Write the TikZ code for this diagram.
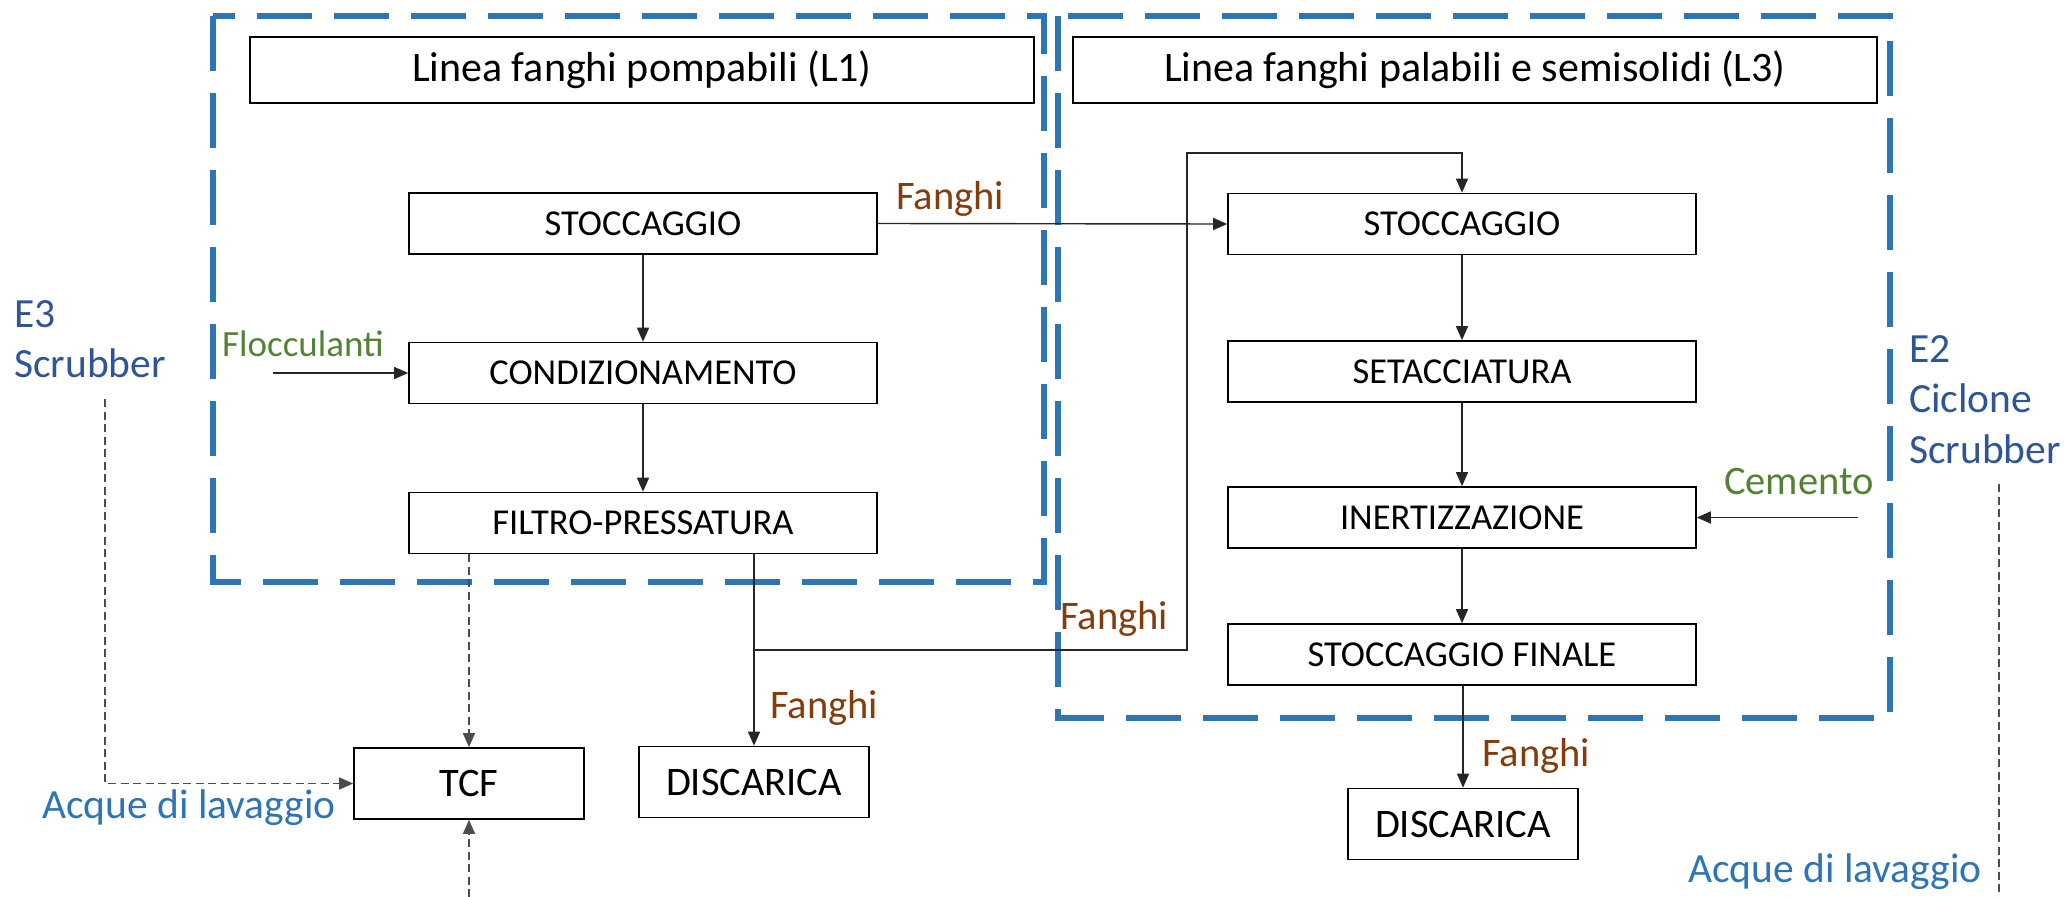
\documentclass[tikz,border=0pt]{standalone}
\usepackage{fontspec}
\setmainfont{Carlito}
\usetikzlibrary{arrows.meta}
\definecolor{zoneblue}{HTML}{2E75B6}
\definecolor{brownc}{HTML}{843C0C}
\definecolor{greenc}{HTML}{548235}
\definecolor{dblue}{HTML}{2F5597}
\definecolor{lblue}{HTML}{2E75B6}
\begin{document}
\begin{tikzpicture}[x=1pt,y=-1pt,
  box/.style={draw=black, line width=1.6pt, inner sep=0pt, text=black,
    font=\fontsize{36.5}{44}\selectfont, minimum width=468pt, minimum height=61pt},
  titlebox/.style={box, font=\fontsize{42}{50}\selectfont, minimum height=66pt},
  endbox/.style={box, font=\fontsize{40.5}{48}\selectfont, minimum width=230pt, minimum height=71pt},
  zone/.style={draw=zoneblue, line width=6.5pt, dash pattern=on 55pt off 22pt},
  flowline/.style={draw=black!85, line width=1.4pt},
  flow/.style={flowline, -{Triangle[length=14pt,width=12pt]}},
  wash/.style={draw=black!70, line width=1.4pt, dash pattern=on 8pt off 4.5pt},
  washarrow/.style={wash, -{Triangle[length=14pt,width=12pt]}},
  lab/.style={anchor=base west, inner sep=0pt, font=\fontsize{40.5}{48}\selectfont},
  elab/.style={lab, text=dblue, font=\fontsize{41.5}{50}\selectfont},
  wlab/.style={lab, text=lblue, font=\fontsize{41.5}{50}\selectfont}]
\useasboundingbox (0,0) rectangle (2065,897);
\fill[white] (0,0) rectangle (2065,897);

% zones
\draw[zone] (213,16) rectangle (1044,582);
\draw[zone] (1058,16) rectangle (1890,718);

% titles
\node[titlebox, minimum width=784pt] (t1) at (642,70) {Linea fanghi pompabili (L1)};
\node[titlebox, minimum width=804pt] (t3) at (1475,70) {Linea fanghi palabili e semisolidi (L3)};

% left line
\node[box] (s1) at (643,223.5) {STOCCAGGIO};
\node[box] (c1) at (643,373) {CONDIZIONAMENTO};
\node[box] (f1) at (643,523) {FILTRO-PRESSATURA};

% right line
\node[box] (s3) at (1462,224) {STOCCAGGIO};
\node[box] (se) at (1462,371.5) {SETACCIATURA};
\node[box] (ine) at (1462,517.5) {INERTIZZAZIONE};
\node[box] (sf) at (1462,654.5) {STOCCAGGIO FINALE};

% end boxes
\node[endbox] (tcf) at (469,783.5) {TCF};
\node[endbox] (d1) at (754,782) {DISCARICA};
\node[endbox] (d2) at (1463,824) {DISCARICA};

% flows
\draw[flow] (s1) -- (c1);
\draw[flow] (c1) -- (f1);
\draw[flow] (s3) -- (se);
\draw[flow] (se) -- (ine);
\draw[flow] (ine) -- (sf);
\draw[flow] (sf.south -| d2.north) -- (d2.north);
\draw[flow] (s1.east) -- (s3.west);
\coordinate (split) at (754,650);
\coordinate (loopA) at (1187,650);
\coordinate (loopB) at (1187,153);
\draw[flow] (f1.south -| d1.north) -- (d1.north);
\draw[flow] (split) -- (loopA) -- (loopB) -- (loopB -| s3.north) -- (s3.north);
\coordinate (floc) at (273,373);
\draw[flow] (floc) -- (c1.west);
\coordinate (cem) at (1858,517.5);
\draw[flow] (cem) -- (ine.east);

% washing water
\draw[washarrow] (f1.south -| tcf.north) -- (tcf.north);
\coordinate (e3top) at (105,399);
\draw[washarrow] (e3top) |- (tcf.west);
\coordinate (bot) at (469,897);
\draw[washarrow] (bot) -- (tcf.south);
\coordinate (e2top) at (1999,484);
\coordinate (e2bot) at (1999,897);
\draw[wash] (e2top) -- (e2bot);

% labels
\node[lab, text=brownc] (fa1) at (896,209) {Fanghi};
\node[lab, text=brownc] (fa2) at (1060,629) {Fanghi};
\node[lab, text=brownc] (fa3) at (770,718) {Fanghi};
\node[lab, text=brownc] (fa4) at (1482,766) {Fanghi};
\node[lab, text=greenc, font=\fontsize{37}{44}\selectfont] (floclab) at (222,356) {Flocculanti};
\node[lab, text=greenc] (cemlab) at (1724,494) {Cemento};
\node[elab] (e3a) at (14,327) {E3};
\node[elab] (e3b) at (14,377) {Scrubber};
\node[elab] (e2a) at (1909,362) {E2};
\node[elab] (e2b) at (1909,412) {Ciclone};
\node[elab] (e2c) at (1909,463) {Scrubber};
\node[wlab] (acq1) at (42,818) {Acque di lavaggio};
\node[wlab] (acq2) at (1688,882) {Acque di lavaggio};
\end{tikzpicture}
\end{document}
